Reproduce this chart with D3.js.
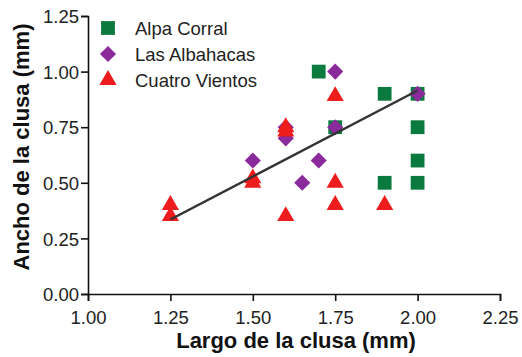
<!DOCTYPE html>
<html>
<head>
<meta charset="utf-8">
<script src="https://cdn.jsdelivr.net/npm/d3@7"></script>
<style>
  body { margin: 0; background: #fff; }
  text { font-family: "Liberation Sans", Arial, sans-serif; }
</style>
</head>
<body>
<svg id="chart" width="522" height="357"></svg>
<script>
// Alpa Corral
const alpaX = [1.70, 1.75, 1.90, 2.00, 2.00, 2.00, 2.00, 1.90];
const alpaY = [1.00, 0.75, 0.90, 0.90, 0.75, 0.60, 0.50, 0.50];
// Las Albahacas
const albaX = [1.75, 2.00, 1.75, 1.60, 1.60, 1.50, 1.70, 1.65];
const albaY = [1.00, 0.90, 0.75, 0.75, 0.70, 0.60, 0.60, 0.50];
// Cuatro Vientos
const cuatroX = [1.25, 1.25, 1.50, 1.50, 1.60, 1.60, 1.60, 1.75, 1.75, 1.75, 1.90];
const cuatroY = [0.40, 0.35, 0.52, 0.50, 0.75, 0.73, 0.35, 0.89, 0.50, 0.40, 0.40];
// fitted line ends
const fitX = [1.25, 2.00];
const fitY = [0.335, 0.915];

const seriesNames = ["Alpa Corral", "Las Albahacas", "Cuatro Vientos"];
const xTicks = [1.00, 1.25, 1.50, 1.75, 2.00, 2.25];
const yTicks = [0.00, 0.25, 0.50, 0.75, 1.00, 1.25];

const green = "#0b7a3e", purple = "#8b2a9b", red = "#ee1d1d";

const svg = d3.select("#chart");

const x = d3.scaleLinear().domain([1.00, 2.25]).range([88, 500]);
const y = d3.scaleLinear().domain([0, 1.25]).range([294, 16]);

// axes
const xAxis = svg.append("g")
  .attr("transform", "translate(0," + y(0) + ")")
  .call(d3.axisBottom(x).tickValues(xTicks).tickFormat(d3.format(".2f")).tickSize(7).tickPadding(10));
const yAxis = svg.append("g")
  .attr("transform", "translate(" + x(1) + ",0)")
  .call(d3.axisLeft(y).tickValues(yTicks).tickFormat(d3.format(".2f")).tickSize(7).tickPadding(2));

[xAxis, yAxis].forEach(a => {
  a.select(".domain").attr("stroke", "#111").attr("stroke-width", 1.6);
  a.selectAll(".tick line").attr("stroke", "#111").attr("stroke-width", 1.6);
  a.selectAll(".tick text").attr("fill", "#222")
    .style("font-family", "'Liberation Sans', Arial, sans-serif").style("font-size", "18.5px");
});
yAxis.selectAll(".tick text").attr("dy", "0.36em");

// titles
svg.append("text")
  .attr("x", 296).attr("y", 348)
  .attr("text-anchor", "middle")
  .style("font-size", "22px").style("font-weight", "bold").attr("fill", "#111")
  .text("Largo de la clusa (mm)");
svg.append("text")
  .attr("transform", "translate(29,147) rotate(-90)")
  .attr("text-anchor", "middle")
  .style("font-size", "22px").style("font-weight", "bold").attr("fill", "#111")
  .text("Ancho de la clusa (mm)");

const square = d3.symbol().type(d3.symbolSquare).size(190);
const diamond = d3.symbol().type(d3.symbolSquare).size(130);
const triangle = d3.symbol().type(d3.symbolTriangle).size(128);

const plot = svg.append("g");

plot.selectAll(".alpa")
  .data(d3.zip(alpaX, alpaY))
  .enter().append("path")
  .attr("d", square)
  .attr("transform", d => "translate(" + x(d[0]) + "," + y(d[1]) + ")")
  .attr("fill", green);

plot.selectAll(".alba")
  .data(d3.zip(albaX, albaY))
  .enter().append("path")
  .attr("d", diamond)
  .attr("transform", d => "translate(" + x(d[0]) + "," + y(d[1]) + ") rotate(45)")
  .attr("fill", purple);

plot.selectAll(".cuatro")
  .data(d3.zip(cuatroX, cuatroY))
  .enter().append("path")
  .attr("d", triangle)
  .attr("transform", d => "translate(" + x(d[0]) + "," + y(d[1]) + ")")
  .attr("fill", red);

// regression line
plot.append("path")
  .datum(d3.zip(fitX, fitY))
  .attr("d", d3.line().x(d => x(d[0])).y(d => y(d[1])))
  .attr("stroke", "#333")
  .attr("stroke-width", 2.5)
  .attr("fill", "none");

// legend
const legend = svg.append("g").attr("transform", "translate(108,28)");
const legendShapes = [
  { d: square(), fill: green, rot: 0 },
  { d: diamond(), fill: purple, rot: 45 },
  { d: triangle(), fill: red, rot: 0 }
];
const rows = legend.selectAll("g")
  .data(seriesNames)
  .enter().append("g")
  .attr("transform", (d, i) => "translate(0," + i * 26 + ")");
rows.append("path")
  .attr("d", (d, i) => legendShapes[i].d)
  .attr("transform", (d, i) => "rotate(" + legendShapes[i].rot + ")")
  .attr("fill", (d, i) => legendShapes[i].fill);
rows.append("text")
  .attr("x", 27).attr("dy", "0.36em")
  .style("font-size", "18.5px").attr("fill", "#222")
  .text(d => d);
</script>
</body>
</html>
